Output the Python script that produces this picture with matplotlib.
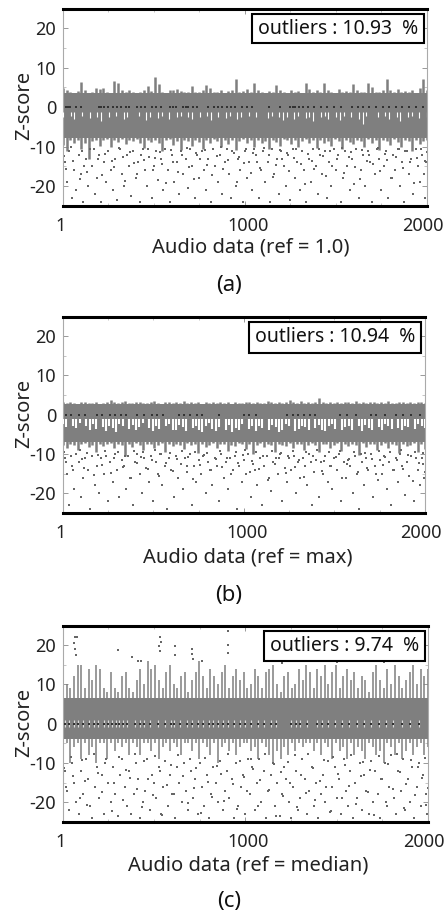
# Z-score scatter of audio data for three ref settings
import numpy as np
import matplotlib
matplotlib.use('Agg')
import matplotlib.pyplot as plt
from matplotlib.patches import Rectangle
from matplotlib.transforms import ScaledTranslation

plt.rcParams['font.family'] = ['Noto Sans', 'DejaVu Sans']

W, H = 448, 911
GRAY = '#7f7f7f'
DOT = '#666666'

y_ticks = [20, 10, 0, -10, -20]
y_labels = ['20', '10', '0', '-10', '-20']
x_ticks = [1, 1000, 2000]
x_labels = ['1', '1000', '2000']

# Panel (a) ref = 1.0
top_a = [4.8, 4.2, 3.8, 3.6, 4.0, 6.4, 4.2, 3.5, 3.8, 4.8, 4.6, 4.9, 3.7, 3.6, 6.6, 6.0, 4.2, 3.8, 4.3, 3.7,
         3.6, 3.9, 4.4, 5.4, 4.0, 7.5, 5.8, 3.8, 3.6, 4.4, 4.2, 4.6, 4.0, 3.7, 3.8, 5.4, 3.9, 3.7, 4.3, 5.6,
         4.8, 3.8, 3.7, 4.2, 3.6, 4.0, 4.4, 7.1, 3.9, 4.0, 4.6, 3.8, 6.0, 4.4, 3.7, 3.6, 4.1, 3.9, 5.5, 4.2,
         3.7, 3.6, 4.4, 3.8, 4.0, 3.6, 6.0, 4.6, 3.7, 4.2, 3.9, 6.1, 4.4, 3.8, 3.6, 4.6, 3.7, 4.1, 3.8, 5.8,
         4.4, 3.7, 3.9, 6.0, 5.0, 3.8, 3.7, 4.2, 7.0, 4.4, 3.8, 4.6, 3.7, 4.0, 3.9, 4.3, 3.6, 4.8, 7.2, 4.4]
low_a = [-9.5, -11, -8.4, -9.2, -8.2, -10.5, -9, -13, -8.6, -8.2, -9.8, -8.4, -8.1, -10, -8.3, -8.8, -8.1, -9.4, -8.2, -8.6,
         -8.1, -9.2, -10.4, -8.3, -8.8, -8.2, -9, -11, -8.4, -8.1, -9.6, -8.6, -10.8, -8.2, -8.5, -9.8, -8.2, -8.8, -10.6, -8.3,
         -9.2, -8.1, -8.5, -10, -8.4, -9.4, -8.2, -10.8, -8.6, -8.1, -9.2, -8.4, -10.2, -8.2, -9, -8.6, -10.5, -8.2, -8.8, -9.8,
         -8.1, -8.4, -9.4, -8.2, -10, -8.6, -8.1, -9.2, -8.4, -10.4, -8.2, -9, -8.5, -9.8, -8.1, -8.6, -10.6, -8.3, -8.8, -9.4,
         -8.2, -8.5, -10.2, -8.1, -9.2, -8.4, -10.8, -8.2, -8.6, -9.6, -8.1, -8.8, -10, -8.3, -8.5, -11, -8.2, -9.4, -8.6, -8.4]
gap_a = [-2.5, -1.2, -2.2, -3, -1.2, -2.2, -1.2, -2.8, -1.2, -2.4, -3.4, -1.2, -2.6, -1.2, -2.2, -1.2, -3, -2.4, -1.2, -1.2,
         -2.2, -1.2, -3.2, -2.5, -1.2, -2.8, -2.2, -1.2, -3, -1.2, -2.4, -2.2, -1.2, -2.6, -3, -1.2, -2.4, -1.2, -2.2, -3.2,
         -1.2, -2.5, -1.2, -2.8, -2.2, -1.2, -3, -2.4, -1.2, -2.2, -1.2, -2.6, -1.2, -1.2, -2.8, -2.2, -1.2, -2.5, -3.2, -2.4,
         -1.2, -3, -2.2, -1.2, -2.8, -2.4, -3.4, -1.2, -2.5, -2.2, -3, -1.2, -2.6, -3.2, -2.2, -1.2, -2.5, -1.2, -3, -4.2,
         -2.2, -1.2, -1.2, -2.4, -1.2, -2.2, -3, -1.2, -2.6, -3.4, -1.2, -2.4, -2.2, -1.2, -2.8, -1.2, -2.4]
zero_a = [15, 28, 40, 70, 100, 200, 212, 225, 250, 275, 300, 320, 345, 365, 410, 430, 450, 490, 510, 540,
          590, 604, 620, 660, 675, 690, 715, 735, 800, 830, 850, 875, 900, 925, 945, 985, 1010, 1040, 1130, 1190,
          1250, 1262, 1275, 1295, 1320, 1345, 1380, 1420, 1450, 1490, 1530, 1590, 1620, 1650, 1680, 1720, 1760, 1790, 1830, 1860,
          1900, 1940, 1980]
dots_a_x = [10, 22, 36, 48, 60, 72, 88, 100, 112, 125, 138, 150, 162, 175, 188, 200, 212, 225, 238, 250,
            262, 275, 288, 300, 312, 325, 338, 350, 362, 375, 388, 400, 412, 425, 438, 450, 462, 475, 488, 500,
            512, 525, 538, 550, 562, 575, 588, 600, 612, 625, 638, 650, 662, 675, 688, 700, 712, 725, 738, 750,
            762, 775, 788, 800, 812, 825, 838, 850, 862, 875, 888, 900, 912, 925, 938, 950, 962, 975, 988, 1000,
            1012, 1025, 1038, 1050, 1062, 1075, 1088, 1100, 1112, 1125, 1138, 1150, 1162, 1175, 1188, 1200, 1212, 1225, 1238, 1250,
            1262, 1275, 1288, 1300, 1312, 1325, 1338, 1350, 1362, 1375, 1388, 1400, 1412, 1425, 1438, 1450, 1462, 1475, 1488, 1500,
            1512, 1525, 1538, 1550, 1562, 1575, 1588, 1600, 1612, 1625, 1638, 1650, 1662, 1675, 1688, 1700, 1712, 1725, 1738, 1750,
            1762, 1775, 1788, 1800, 1812, 1825, 1838, 1850, 1862, 1875, 1888, 1900, 1912, 1925, 1938, 1950, 1962, 1975, 1988, 1995]
dots_a_y = [-14, -19, -11, -23, -16, -21, -12, -17, -24, -13, -20, -10.5, -15, -22, -18, -12, -24, -14, -19, -11,
            -16, -21, -13, -23.5, -10.5, -17, -20, -12, -15, -22.5, -11, -18, -14, -24, -10.5, -16, -20, -12.5, -23, -15,
            -11, -18.5, -13, -21, -10.5, -16, -24, -12, -19, -14, -22, -11, -17, -13, -20.5, -10.5, -15, -23, -12, -18,
            -11, -16, -21, -13, -24, -10.5, -15, -19, -12, -22, -14, -10.5, -17, -23, -11.5, -20, -13, -16, -24, -11,
            -18, -14, -21, -10.5, -12, -23, -16, -11, -19, -14, -24, -10.5, -17, -13, -22, -11, -15, -20, -12, -23.5,
            -10.5, -18, -14, -21, -11, -16, -24, -13, -19, -10.5, -15, -22, -12, -17, -11, -23, -14, -20, -10.5, -16,
            -12, -24, -18, -11, -15, -21, -13, -19.5, -10.5, -23, -16, -12, -20, -11, -14, -24, -17, -10.5, -13, -21,
            -15, -11, -23, -18, -12, -16, -10.5, -20, -14, -24, -11, -17, -13, -22, -10.5, -15, -19, -12, -23, -14]
extra_a_x = [5, 17, 43, 55, 93, 107, 119, 133, 171, 194, 217, 233, 268, 283, 306, 331, 344, 369, 393, 407,
             431, 444, 469, 493, 507, 531, 544, 569, 593, 607, 631, 656, 683, 694, 719, 731, 756, 781, 794, 818,
             844, 869, 881, 906, 931, 956, 969, 994, 1006, 1031, 1044, 1069, 1081, 1106, 1131, 1156, 1169, 1194, 1206, 1231,
             1244, 1269, 1281, 1306, 1331, 1344, 1369, 1381, 1406, 1431, 1444, 1469, 1481, 1506, 1531, 1544, 1569, 1581, 1606, 1631,
             1644, 1669, 1681, 1706, 1731, 1744, 1769, 1781, 1806, 1831, 1844, 1869, 1881, 1906, 1931, 1944, 1969, 1981, 1991, 1998]
extra_a_y = [-12.3, -15.6, -10.2, -13.7, -18.2, -11.1, -14.8, -16.3, -10.7, -13.1, -17.2, -11.8, -13.6, -15.2, -10.3, -12.6, -18.7, -11.4, -14.1, -16.9,
             -12.2, -13.3, -10.6, -15.8, -12.9, -11.3, -14.4, -19.2, -10.9, -13.8, -16.4, -12.1, -10.4, -15.1, -18.3, -11.6, -13.2, -10.8, -14.7, -17.1,
             -12.4, -10.2, -15.7, -13.4, -11.2, -18.9, -12.7, -14.2, -10.6, -16.6, -11.7, -13.9, -15.3, -10.3, -12.2, -17.7, -14.6, -10.9, -13.1, -11.5,
             -16.2, -12.8, -10.5, -14.3, -19.4, -11.9, -13.5, -15.6, -10.7, -12.3, -17.4, -11.1, -14.9, -13.2, -10.4, -16.7, -12.6, -11.4, -15.1, -18.1,
             -10.8, -13.7, -12.1, -14.5, -10.3, -16.1, -11.8, -13.3, -17.9, -12.5, -10.6, -15.4, -11.2, -14, -19.1, -12.9, -10.5, -16.8, -13.6, -11.3]

# Panel (b) ref = max
top_b = [3.1, 2.9, 3.2, 3.0, 2.8, 3.1, 3.3, 2.9, 3.0, 3.2, 2.8, 3.0, 3.3, 3.6, 3.1, 2.9, 3.2, 3.4, 3.0, 2.9,
         3.1, 3.2, 2.9, 3.0, 3.2, 3.4, 3.0, 2.8, 3.1, 3.3, 2.9, 3.2, 3.0, 3.4, 2.9, 3.1, 3.0, 3.3, 2.8, 3.1,
         3.0, 3.2, 2.9, 3.3, 3.0, 3.1, 2.8, 3.2, 3.0, 2.9, 3.3, 3.1, 3.0, 3.2, 2.9, 3.0, 3.4, 3.1, 2.9, 3.2,
         3.0, 3.3, 3.8, 3.1, 3.0, 3.4, 2.9, 3.2, 3.0, 3.1, 4.1, 3.2, 2.9, 3.1, 3.0, 3.3, 2.9, 3.1, 3.2, 3.0,
         3.4, 2.9, 3.1, 3.0, 3.3, 3.1, 2.9, 3.2, 3.0, 3.5, 3.0, 2.9, 3.2, 3.1, 3.0, 3.3, 2.9, 3.1, 3.2, 3.0]
low_b = [-7.6, -8.4, -7.4, -7.8, -9, -7.5, -7.3, -8.2, -7.6, -9.6, -7.4, -8, -7.5, -7.3, -8.6, -7.4, -7.8, -10.4, -7.5, -8.2,
         -7.3, -7.7, -9, -7.5, -7.4, -8.4, -7.6, -7.3, -9.4, -7.5, -8, -7.4, -7.6, -8.8, -7.3, -7.7, -7.5, -9.8, -7.4, -8.2,
         -7.6, -7.3, -8.6, -7.5, -7.4, -9.2, -7.6, -8, -7.3, -7.5, -8.8, -7.4, -10, -7.6, -7.3, -8.2, -7.5, -7.7, -9.4, -7.4,
         -7.6, -8, -7.3, -8.6, -7.5, -7.4, -9, -7.6, -7.3, -7.8, -9.6, -7.5, -7.4, -8.4, -7.6, -7.3, -9.2, -7.5, -8, -7.4,
         -7.6, -10.2, -7.3, -8.2, -7.5, -7.4, -9, -7.6, -7.3, -8.6, -7.5, -7.7, -9.8, -7.4, -8, -7.6, -7.3, -9.4, -7.5, -8.8]
gap_b = [-2.5, -3.2, -1.2, -2.8, -3.5, -2.2, -1.2, -3, -4, -2.5, -3.6, -1.2, -3.2, -4.2, -2.8, -3.4, -4.4, -2.4, -3, -1.2,
         -3.6, -2.6, -4, -3.2, -2.2, -1.2, -3.4, -4.2, -2.8, -3.6, -1.2, -3, -2.4, -3.8, -4, -2.6, -3.2, -4.2, -1.2, -3.4,
         -2.8, -3.8, -4.4, -3, -2.2, -3.6, -4.2, -3.2, -1.2, -3.8, -2.6, -4.4, -3.4, -4, -2.4, -1.2, -3.6, -3, -4.2, -2.8,
         -3.4, -1.2, -4, -2.6, -3.2, -4.4, -3.8, -2.4, -3, -1.2, -4.2, -3.6, -2.8, -3.2, -4, -1.2, -3.4, -2.6, -3.8, -4.2,
         -3, -2.4, -3.6, -1.2, -4, -3.2, -2.8, -3.8, -1.2, -3, -4.2, -2.6, -3.4, -4, -1.2, -3.2, -3.8, -2.4, -3, -3.6,
         -1.2, -3.4, -4, -2.8, -3.2, -1.2, -3.6, -2.4, -3, -3.4]
zero_b = [20, 45, 90, 120, 190, 215, 260, 290, 320, 350, 640, 670, 700, 740, 770, 1000, 1030, 1065, 1240, 1270,
          1300, 1330, 1365, 1395, 1530, 1570, 1620, 1700, 1730, 1780, 1840, 1880, 1920, 1970, 410, 450, 490, 520, 555, 860]
dots_b_x = dots_a_x
dots_b_y = [-11, -15, -23, -13, -19, -10, -12, -21, -16, -11, -14, -24, -10.5, -18, -13, -20, -11, -15, -10.5, -22,
            -12, -17, -10, -14, -21, -11.5, -13, -19, -10.5, -16, -23, -12, -10, -15, -20, -11, -13.5, -17, -10.5, -22,
            -12, -15, -10, -18, -13, -24, -11, -14, -21, -10.5, -16, -12.5, -19, -11, -14.5, -10, -23, -13, -17, -11.5,
            -15, -10.5, -20, -12, -14, -18, -11, -13, -22, -10, -16, -12, -19, -11, -14, -10.5, -24, -13, -17, -11.5,
            -15, -10, -21, -12.5, -14, -18, -11, -23, -13, -10.5, -16, -19.5, -12, -11, -15, -10, -22, -13.5, -17, -11,
            -14, -10.5, -20, -12, -16, -11, -13, -18, -10, -23, -14.5, -11.5, -21, -12, -15, -10.5, -17, -13, -19, -11,
            -14, -10, -22, -12, -16, -11.5, -13, -20, -10.5, -15, -24, -12, -18, -11, -14, -10, -21, -13, -16.5, -11.5,
            -15, -10.5, -19, -12, -23, -14, -11, -17, -10, -13, -20.5, -12, -15.5, -10.5, -22, -11, -14, -18, -12.5, -16]
extra_b_x = extra_a_x
extra_b_y = [-9.4, -12.1, -10.6, -14.2, -9.1, -11.3, -13.6, -9.8, -15.4, -10.2, -12.7, -9.3, -14.8, -11.1, -9.6, -13.2, -10.4, -16.1, -9.2, -12.4,
             -10.8, -9.5, -13.9, -11.6, -9.1, -15.7, -10.1, -12.2, -9.7, -14.4, -11.2, -9.3, -13.1, -10.7, -16.4, -9.4, -12.8, -10.3, -9.8, -14.1,
             -11.4, -9.2, -13.4, -10.9, -15.2, -9.6, -12.3, -10.2, -9.1, -14.6, -11.7, -9.4, -13.7, -10.5, -16.7, -9.3, -12.6, -11, -9.7, -14.9,
             -10.6, -9.2, -13.3, -11.5, -15.9, -9.5, -12.1, -10.4, -9.1, -14.3, -11.8, -9.6, -13, -10.8, -9.3, -16.2, -12.5, -11.2, -9.4, -14.7,
             -10.1, -9.7, -13.5, -11.3, -15.1, -9.2, -12.9, -10.7, -9.5, -14, -11.6, -9.1, -13.8, -10.3, -16.9, -9.4, -12.2, -11.1, -9.8, -14.5]

# Panel (c) ref = median
top_c = [14, 10, 9, 12, 15, 15, 9, 14, 11, 15, 14, 9, 8, 13, 9, 8, 12, 13, 9, 8,
         11, 14, 10, 16, 14, 15, 11, 9, 13, 15, 10, 9, 12, 13, 8, 11, 13, 16, 12, 9,
         14, 12, 10, 13, 15, 9, 12, 14, 11, 13, 9, 10, 14, 12, 9, 13, 14, 15, 10, 8,
         12, 13, 9, 10, 14, 11, 15, 13, 9, 14, 12, 15, 10, 13, 15, 9, 12, 14, 11, 13,
         9, 12, 11, 8, 13, 15, 11, 9, 14, 10, 15, 12, 9, 11, 13, 15, 10, 14, 12, 14]
low_c = [-9, -5, -10, -6, -5, -9, -5, -8, -6, -10, -5, -5, -9, -5, -7, -5, -6, -5, -8, -5,
         -6, -8, -5, -5, -7, -5, -9, -6, -5, -7, -5, -6, -8, -5, -5, -7, -5, -9, -5, -6,
         -8, -5, -10, -6, -5, -7, -5, -8, -6, -5, -5, -7, -6, -9, -5, -6, -8, -10, -7, -9,
         -6, -8, -5, -7, -5, -6, -5, -5, -7, -5, -8, -5, -6, -9, -5, -7, -6, -9, -5, -8,
         -6, -7, -9, -5, -6, -8, -7, -10, -5, -6, -8, -5, -9, -7, -5, -8, -6, -5, -8, -6]
zero_c = [10, 35, 60, 85, 110, 145, 170, 190, 225, 250, 270, 290, 310, 330, 350, 395, 420, 445, 480, 520,
          560, 590, 610, 640, 680, 710, 740, 770, 800, 825, 850, 880, 905, 940, 970, 1000, 1030, 1070, 1100, 1140,
          1170, 1250, 1275, 1300, 1340, 1390, 1420, 1450, 1490, 1530, 1570, 1610, 1650, 1690, 1730, 1770, 1810, 1860, 1900, 1950]
dots_c_x = dots_a_x + [64, 60, 75, 64, 72, 530, 535, 528, 530, 612, 616, 709, 705, 712, 904, 902, 906, 300, 380, 410,
                       430, 760, 1200, 1300, 1340, 1500, 1590, 1760, 1850, 1960]
dots_c_y = [-12, -17, -22, -10, -15, -20, -23, -12, -18, -9, -14, -21, -24, -16, -11, -19, -13, -23, -9, -15,
            -20, -11, -18, -23.5, -13, -9, -16, -21, -12, -23, -18, -10, -14, -24, -20, -17, -9, -22, -13, -15,
            -19, -11, -23, -16, -9.5, -21, -13, -18, -24, -11, -15, -20, -10, -17, -22, -12, -19, -14, -23, -10,
            -16, -21, -13, -24, -18, -11, -15, -20, -9.5, -22, -17, -12, -19, -14, -24, -10, -21, -16, -13, -23,
            -9, -18, -11, -22, -15, -9, -20, -12, -24, -17, -13, -10, -21, -15, -23.5, -18, -11, -14, -20, -24,
            -16, -12, -22, -19, -9, -14, -23, -17, -11, -21, -15, -24, -18, -13, -20, -9.5, -22.5, -16, -11, -19,
            -14, -23, -9, -17, -21, -12, -24, -15, -19, -10, -22, -13, -17, -23, -9.5, -20, -12, -18, -24, -14,
            -10, -21, -16, -8, -19, -23, -12, -17, -9, -22, -14, -20, -11, -24, -16, -10, -21, -13, -18, -23]
dots_c_y = dots_c_y + [22, 20.5, 22, 19, 17.5, 22, 20.8, 19.6, 18.4, 19.6, 17.5, 19, 17.8, 16.4, 23.6, 20, 18, 18.6, 17, 16,
                       15.8, 16, 15.5, 16.2, 15.8, 15.6, 16.2, 15.7, 16, 15.9]
extra_c_x = extra_a_x
extra_c_y = [-11.4, -16.2, -8.6, -13.3, -18.8, -9.2, -14.7, -20.6, -7.8, -12.5, -17.4, -10.1, -22.3, -15.1, -8.4, -19.3, -11.9, -13.8, -7.6, -16.7,
             -21.2, -9.6, -14.2, -18.1, -8.2, -12.1, -23.1, -15.6, -10.4, -17.8, -7.9, -13.2, -20.1, -9.1, -16.4, -11.3, -22.7, -8.7, -14.9, -18.6,
             -10.7, -12.9, -19.7, -7.7, -15.4, -21.7, -9.4, -13.6, -17.1, -8.9, -11.6, -20.9, -14.4, -7.8, -16.9, -10.2, -23.4, -12.3, -18.4, -9.8,
             -15.2, -8.1, -21.1, -13.1, -17.6, -7.6, -11.2, -19.4, -14.6, -9.3, -16.1, -22.1, -8.5, -12.7, -18.9, -10.6, -15.9, -7.9, -20.3, -13.4,
             -9.7, -17.3, -11.7, -23.2, -8.3, -14.1, -19.8, -10.3, -16.6, -7.7, -12.2, -21.4, -15.3, -9.2, -18.2, -11.1, -13.7, -8.8, -20.7, -16.3]

titles = ['Audio data (ref = 1.0)', 'Audio data (ref = max)', 'Audio data (ref = median)']
tags = ['(a)', '(b)', '(c)']
outliers = ['outliers : 10.93  %', 'outliers : 10.94  %', 'outliers : 9.74  %']

fig = plt.figure(figsize=(W / 100, H / 100), dpi=100)


def fx(px):
    return px / W


def fy(py):
    return 1 - py / H


def draw_panel(box, core, top, low, gap, gap_from, gap_lw, zero, dots_x, dots_y, more_x, more_y, title, tag, note,
               note_box, title_xy, tag_y, spike_lw=1.8):
    x0, y0, x1, y1 = box
    ax = fig.add_axes([fx(x0), fy(y1), (x1 - x0) / W, (y1 - y0) / H])
    ax.set_xlim(1, 2000)
    ax.set_ylim(-25, 24.8)

    # band, then the comb on both edges
    ax.fill_between([1, 2000], core[0], core[1], color=GRAY, lw=0, zorder=2)
    ax.vlines(np.linspace(1, 2000, len(top)), core[1] - 0.2, top, color=GRAY, lw=spike_lw, zorder=2)
    ax.vlines(np.linspace(1, 2000, len(low)), low, core[0] + 0.2, color=GRAY, lw=spike_lw, zorder=2)
    if gap is not None:
        ax.vlines(np.linspace(1, 2000, len(gap)), gap, gap_from, color='white', lw=gap_lw, zorder=3)
    else:
        # white flecks round the zero row of the median panel
        ax.vlines(zero, -0.8, 0.8, color='#dddddd', lw=0.8, zorder=3)
    ax.scatter(zero, [0] * len(zero), s=1.3, color='#333333', marker='s', lw=0, zorder=4)
    ax.scatter(dots_x, dots_y, s=0.9, color=DOT, marker='s', lw=0, zorder=2)
    ax.scatter(more_x, more_y, s=0.9, color=DOT, marker='s', lw=0, zorder=2)

    # heavy rule top and bottom, thin grey at the sides
    for side in ['top', 'bottom']:
        ax.spines[side].set_linewidth(2.2)
        ax.spines[side].set_color('black')
    for side in ['left', 'right']:
        ax.spines[side].set_linewidth(0.8)
        ax.spines[side].set_color('#aaaaaa')
    ax.set_yticks(y_ticks, y_labels)
    ax.set_yticks([15, 5, -5, -15], minor=True)
    ax.set_xticks(x_ticks, x_labels)
    ax.set_xticks([250, 500, 750, 1250, 1500, 1750], minor=True)
    ax.tick_params(axis='both', which='major', direction='in', length=3.5, width=0.7, color='#999999',
                   labelsize=13, labelcolor='#222222', top=True, right=True)
    ax.tick_params(axis='both', which='minor', direction='in', length=2, width=0.6, color='#bbbbbb',
                   top=True, right=True)
    ax.tick_params(axis='y', pad=5)
    ax.tick_params(axis='x', pad=8)
    # nudge x tick labels the way they sit in the picture
    for label, dx in zip(ax.get_xticklabels(), [-2, 3, -4]):
        label.set_transform(label.get_transform() + ScaledTranslation(dx / 100, 0, fig.dpi_scale_trans))

    # outliers box
    bx0, by0, bx1, by1 = note_box
    fig.add_artist(Rectangle((fx(bx0), fy(by1)), (bx1 - bx0) / W, (by1 - by0) / H, transform=fig.transFigure,
                             facecolor='white', edgecolor='black', lw=1.5, zorder=5))
    fig.text(fx((bx0 + bx1) / 2), fy((by0 + by1) / 2), note, ha='center', va='center', fontsize=14,
             color='#111111', zorder=6)

    fig.text(fx(24), fy((y0 + y1) / 2 - 2), 'Z-score', rotation=90, ha='center', va='center', fontsize=14.5,
             color='#222222')
    fig.text(fx(title_xy[0]), fy(title_xy[1]), title, ha='center', va='center', fontsize=14.5, color='#222222')
    fig.text(fx(229), fy(tag_y), tag, ha='center', va='center', fontsize=16, color='#111111')


draw_panel((63, 9, 427, 206), (-7.8, 3.6), top_a, low_a, gap_a, -1.2, 0.8, zero_a, dots_a_x, dots_a_y,
           extra_a_x, extra_a_y, titles[0], tags[0], outliers[0], (252, 14, 424, 43), (251, 247), 285)
draw_panel((63, 317, 425, 513), (-7.0, 2.6), top_b, low_b, gap_b, -1.0, 1.5, zero_b, dots_b_x, dots_b_y,
           extra_b_x, extra_b_y, titles[1], tags[1], outliers[1], (249, 322, 421, 353), (248, 558), 595)
draw_panel((63, 626, 428, 822), (-3.8, 6.6), top_c, low_c, None, 0, 0, zero_c, dots_c_x, dots_c_y,
           extra_c_x, extra_c_y, titles[2], tags[2], outliers[2], (264, 631, 425, 661), (248, 866), 902, spike_lw=1.1)

fig.savefig('out.png', dpi=100)
